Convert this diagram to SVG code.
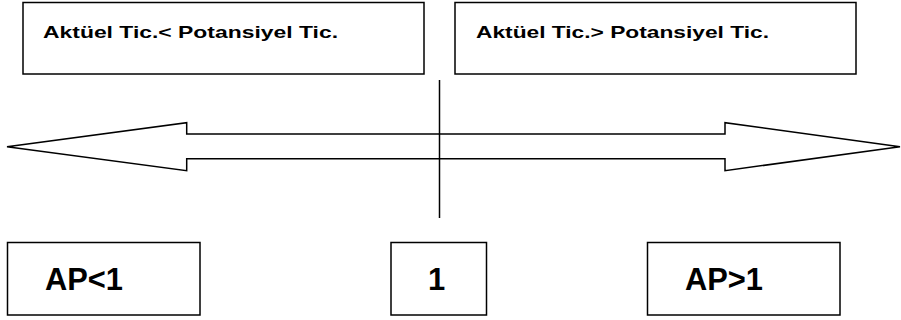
<svg xmlns="http://www.w3.org/2000/svg" width="901" height="320" viewBox="0 0 901 320">
<style>
.box{fill:#fff;stroke:#000;stroke-width:1.5}
.t{font-family:"Liberation Sans",Arial,sans-serif;font-weight:bold;fill:#000}
.s{font-size:17px}
.b{font-size:31px}
.ln{fill:none;stroke:#000;stroke-width:1.5}
</style>
<g id="top-left"><rect class="box" x="23" y="2.5" width="401" height="71.5"/><text class="t s" x="43" y="37.5" textLength="295" lengthAdjust="spacingAndGlyphs">Aktüel Tic.&lt; Potansiyel Tic.</text></g>
<g id="top-right"><rect class="box" x="455" y="2.5" width="401" height="71.5"/><text class="t s" x="476" y="37.5" textLength="293" lengthAdjust="spacingAndGlyphs">Aktüel Tic.&gt; Potansiyel Tic.</text></g>
<g id="connectors">
<path class="ln" d="M7 146.7 L186.7 122.7 L186.7 134 L725 134 L725 122.7 L900 146.7 L725 170.7 L725 158.7 L186.7 158.7 L186.7 170.7 Z"/>
<line class="ln" x1="439.5" y1="80" x2="439.5" y2="218"/>
</g>
<g id="ap-less"><rect class="box" x="7.5" y="242.5" width="192.5" height="72.5"/><text class="t b" x="45" y="289.5" textLength="78" lengthAdjust="spacingAndGlyphs">AP&lt;1</text></g>
<g id="one"><rect class="box" x="391" y="242.5" width="95.5" height="72.5"/><text class="t b" x="428" y="289.5">1</text></g>
<g id="ap-greater"><rect class="box" x="647.5" y="242.5" width="192.5" height="72.5"/><text class="t b" x="685" y="289.5" textLength="78" lengthAdjust="spacingAndGlyphs">AP&gt;1</text></g>
</svg>
